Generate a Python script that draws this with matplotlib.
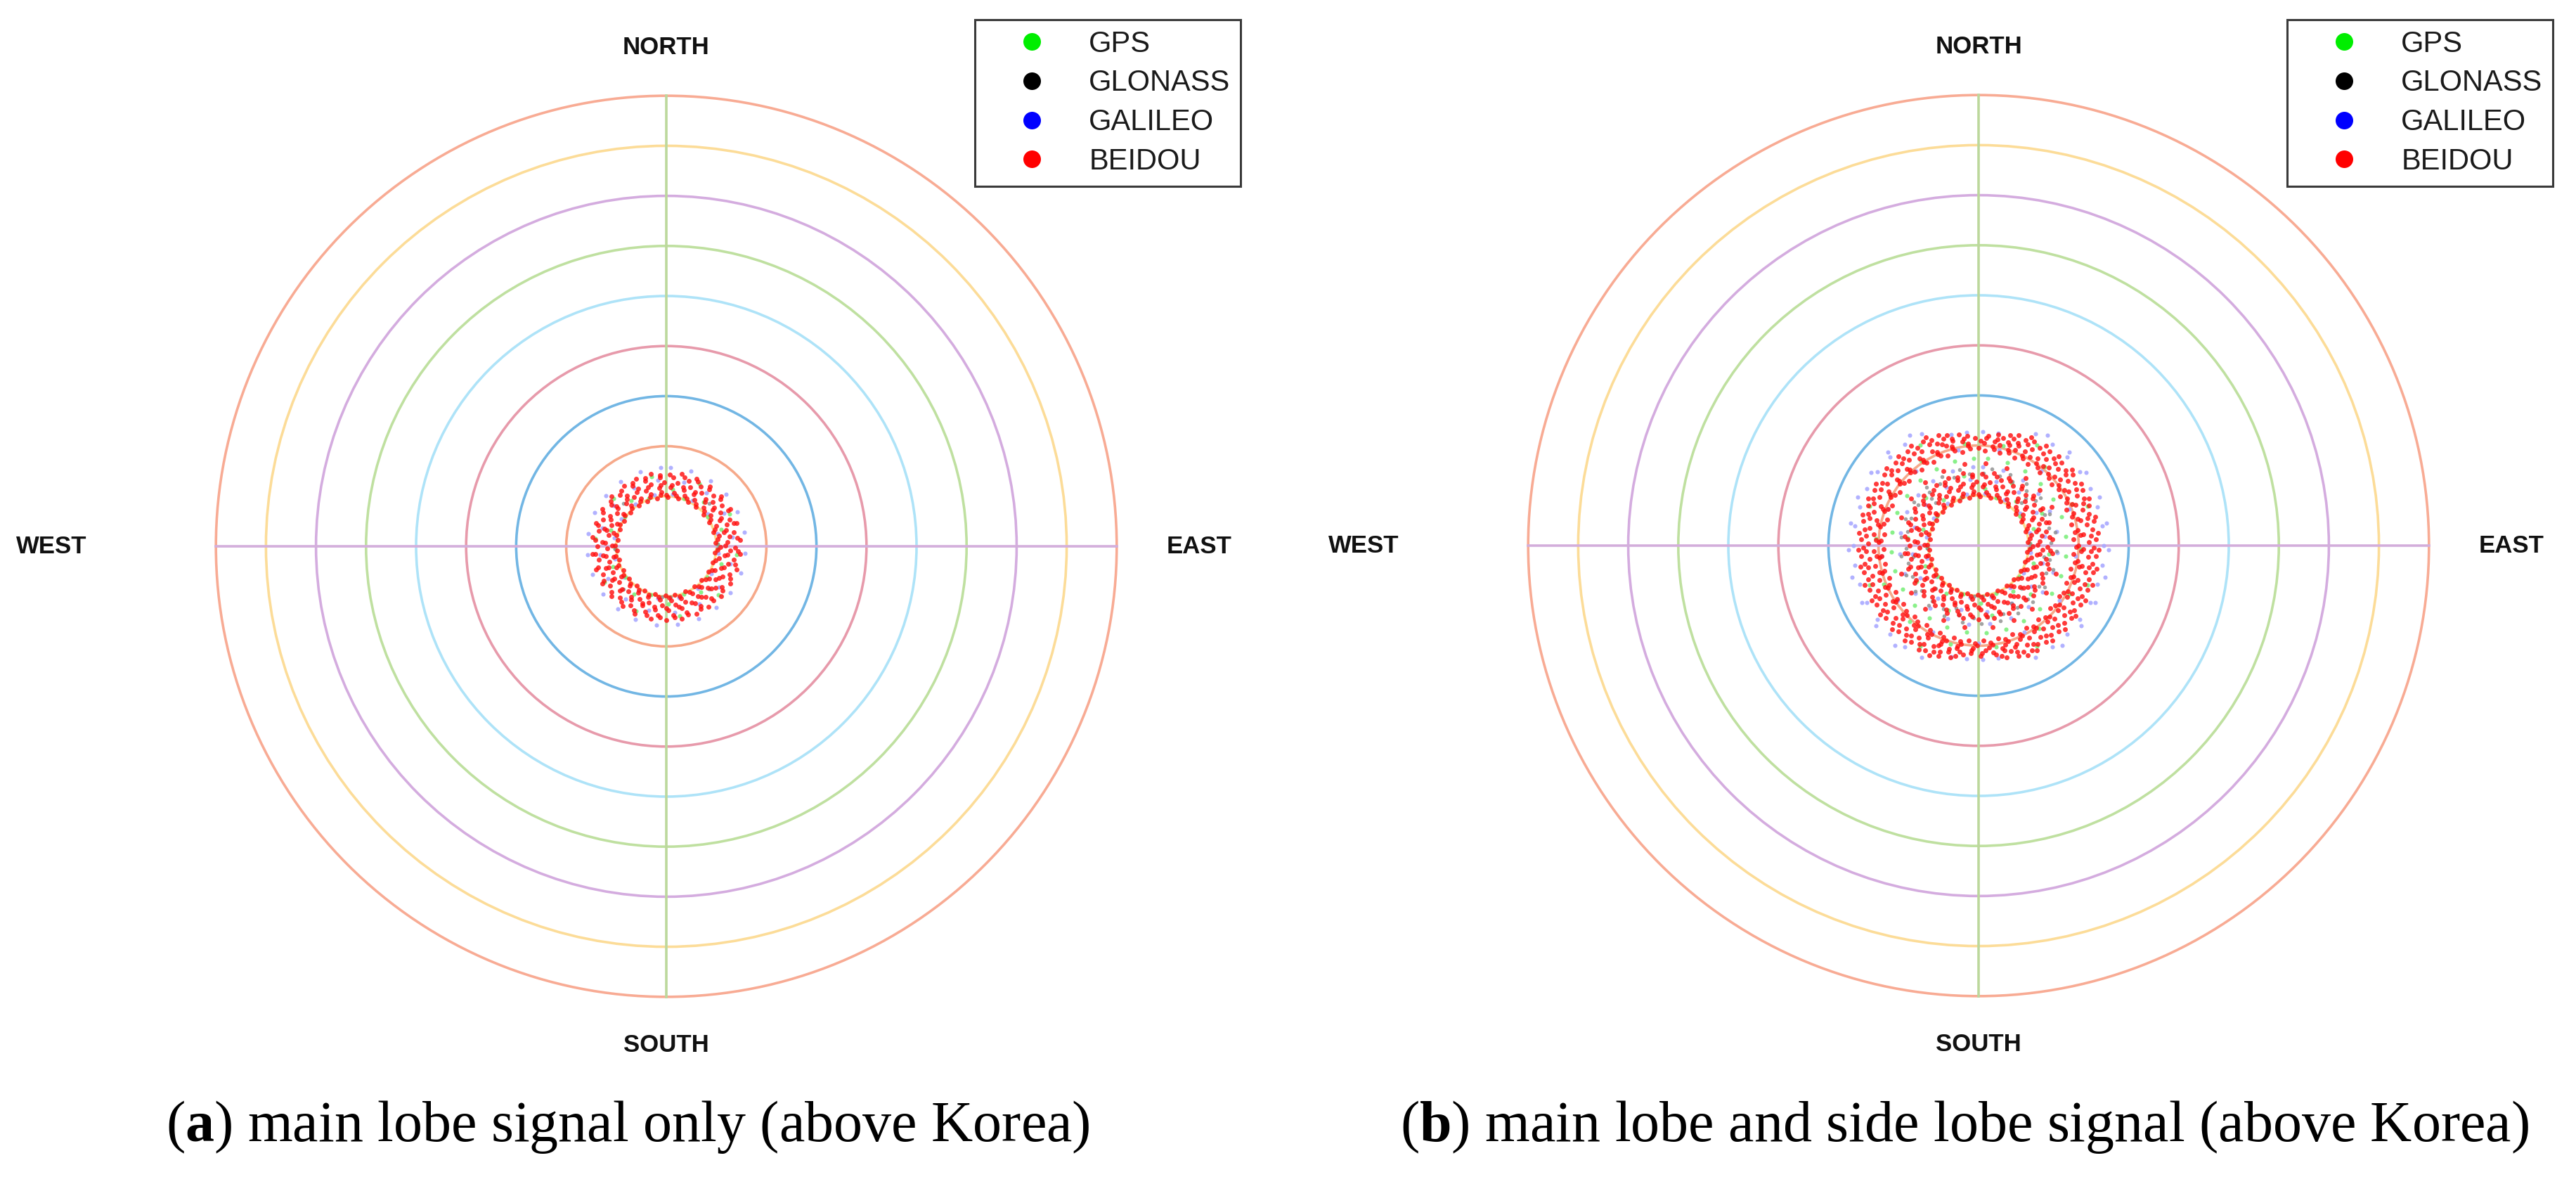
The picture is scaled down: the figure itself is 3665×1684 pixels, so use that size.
import numpy as np
import matplotlib
matplotlib.use("Agg")
import matplotlib.pyplot as plt
from matplotlib.lines import Line2D
from matplotlib.patches import Circle

# sky plot data: (zenith angle in degrees, [azimuths in degrees])
SYSTEMS = ["GPS", "GLONASS", "GALILEO", "BEIDOU"]

MAIN_GPS = [
    (10.2, [20, 55, 88, 127, 160, 198, 233, 268, 305, 340]),
    (11.5, [6, 40, 73, 108, 143, 178, 214, 249, 286, 322]),
    (14.2, [28, 63, 97, 133, 169, 205, 240, 276, 312, 348]),
]
MAIN_GLONASS = [
    (10.2, [88, 92, 175, 185, 267]),
    (12.2, [45, 135, 225, 315]),
]
MAIN_GALILEO = [
    (10.5, [7, 30, 52, 76, 98, 121, 143, 166, 189, 211, 234, 256, 279, 301, 324, 347]),
    (13.3, [15, 37, 60, 82, 105, 128, 150, 173, 195, 218, 241, 263, 286, 308, 331, 353]),
    (15.8, [3, 18, 34, 49, 64, 80, 95, 110, 126, 141, 156, 172, 187, 203, 218, 233,
            249, 264, 279, 295, 310, 325, 341, 356]),
]
MAIN_BEIDOU = [
    (9.8, [2, 14, 26, 37, 50, 61, 73, 86, 97, 109, 121, 134, 145, 157, 170, 181, 193,
           206, 217, 229, 241, 254, 265, 277, 290, 301, 313, 326, 337, 349]),
    (10.3, [0, 11, 23, 35, 47, 59, 71, 82, 94, 106, 118, 130, 141, 153, 165, 177, 189,
            200, 212, 224, 236, 248, 259, 271, 283, 295, 307, 318, 330, 342, 354]),
    (10.8, [8, 20, 31, 44, 55, 68, 79, 91, 103, 116, 127, 139, 151, 164, 175, 187, 200,
            211, 223, 236, 247, 259, 271, 284, 295, 307, 319, 332, 343, 355]),
    (11.8, [4, 17, 28, 41, 52, 64, 76, 89, 99, 112, 124, 135, 148, 161, 171, 184, 197,
            207, 220, 233, 244, 255, 268, 281, 291, 304, 317, 327, 340, 353]),
    (12.3, [5, 16, 28, 40, 51, 63, 75, 86, 98, 110, 121, 133, 145, 156, 168, 180, 191,
            203, 215, 226, 238, 250, 261, 273, 285, 296, 308, 320, 331, 343, 355]),
    (12.8, [10, 22, 33, 46, 58, 70, 81, 94, 106, 118, 130, 142, 153, 166, 178, 190, 202,
            213, 226, 238, 250, 262, 274, 286, 298, 309, 322, 334, 346, 358]),
    (13.8, [6, 19, 30, 43, 54, 67, 78, 91, 101, 114, 126, 139, 150, 163, 174, 187, 198,
            211, 222, 235, 246, 259, 270, 283, 293, 307, 318, 331, 342, 355]),
    (14.3, [3, 15, 26, 37, 49, 60, 71, 83, 94, 105, 117, 128, 139, 151, 162, 173, 185,
            196, 207, 219, 230, 241, 253, 264, 275, 287, 298, 309, 321, 332, 343, 355]),
    (14.8, [12, 24, 36, 48, 60, 72, 85, 96, 108, 120, 132, 145, 156, 168, 180, 192, 205,
            216, 228, 240, 252, 264, 277, 288, 300, 312, 325, 336, 348]),
]

SIDE_GPS = [
    (17.5, [6, 19, 32, 45, 58, 71, 84, 97, 110, 123, 136, 149, 162, 175, 188, 201, 214,
            227, 240, 253, 266, 279, 292, 305, 318, 331, 344, 357]),
    (20.5, [14, 40, 66, 92, 118, 144, 170, 196, 222, 248, 274, 300, 326, 352]),
    (23.2, [30, 70, 110, 150, 210, 250, 290, 330]),
]
SIDE_GLONASS = [
    (13.3, [45, 100, 150, 200, 260, 315]),
    (14.5, [4, 17, 28, 41, 52, 65, 76, 88, 101, 112, 124, 137, 148, 160, 173, 184, 196,
            209, 220, 232, 245, 256, 268, 281, 292, 304, 317, 328, 340, 353]),
    (15.6, [10, 24, 38, 52, 66, 80, 94, 108, 122, 136, 150, 164, 178, 192, 206, 220, 234,
            248, 262, 276, 290, 304, 318, 332, 346]),
]
SIDE_GALILEO = [
    (19.5, [12, 40, 68, 96, 124, 152, 180, 208, 236, 264, 292, 320, 348]),
    (22.8, [346, 354, 2, 10, 170, 178, 186, 194]),
    (25.0, [27, 36, 45, 54, 63, 72, 81, 90, 99, 108, 117, 126, 135, 144, 153, 207, 216,
            225, 234, 243, 252, 261, 270, 279, 288, 297, 306, 315, 324, 333]),
    (26.0, [32, 44, 56, 68, 80, 92, 104, 116, 128, 140, 220, 232, 244, 256, 268, 280,
            292, 304, 316, 328]),
]
SIDE_BEIDOU = [
    (16.5, [5, 20, 35, 48, 62, 110, 125, 140, 155, 170, 190, 205, 220, 235, 250, 290,
            305, 320, 335, 350]),
    (19.0, [4, 13, 22, 31, 40, 50, 59, 68, 77, 86, 95, 104, 113, 122, 131, 141, 150, 159,
            168, 177, 186, 195, 204, 213, 222, 232, 241, 250, 259, 268, 277, 286, 295,
            304, 313, 323, 332, 341, 350]),
    (19.5, [0, 9, 18, 27, 37, 46, 55, 64, 73, 82, 91, 100, 109, 119, 128, 137, 146, 155,
            164, 173, 182, 191, 201, 210, 219, 228, 237, 246, 255, 264, 273, 283, 292,
            301, 310, 319, 328, 337, 346, 355]),
    (20.0, [8, 17, 26, 35, 44, 53, 62, 71, 81, 90, 99, 108, 117, 126, 135, 145, 154, 163,
            172, 181, 190, 199, 208, 217, 226, 236, 245, 254, 263, 272, 281, 290, 299,
            308, 317, 327, 336, 345, 354]),
    (20.5, [3, 12, 21, 30, 39, 48, 57, 66, 75, 84, 93, 102, 111, 120, 129, 138, 147, 156,
            165, 174, 183, 192, 201, 210, 219, 228, 237, 246, 255, 264, 273, 282, 291,
            300, 309, 318, 327, 336, 345, 354]),
    (21.0, [1, 9, 17, 26, 34, 42, 51, 59, 67, 76, 84, 92, 101, 109, 117, 126, 134, 142,
            151, 159, 167, 176, 184, 192, 201, 209, 217, 226, 234, 242, 251, 259, 267,
            276, 284, 292, 301, 309, 317, 326, 334, 342, 351]),
    (21.5, [340, 346, 352, 358, 4, 10, 16, 22, 160, 166, 172, 178, 184, 190, 196, 202]),
    (22.0, [5, 13, 21, 29, 38, 46, 54, 63, 71, 79, 88, 96, 104, 113, 121, 129, 138, 146,
            154, 163, 171, 179, 188, 196, 204, 213, 221, 229, 238, 246, 254, 263, 271,
            279, 288, 296, 304, 313, 321, 329, 338, 346, 354]),
    (22.5, [10, 18, 26, 35, 43, 51, 60, 68, 76, 85, 93, 101, 110, 118, 126, 135, 143, 151,
            160, 168, 192, 200, 209, 217, 225, 234, 242, 250, 259, 267, 275, 284, 292,
            300, 309, 317, 325, 334, 342, 350]),
    (23.0, [16, 24, 32, 41, 49, 57, 66, 74, 82, 91, 99, 107, 116, 124, 132, 141, 149, 157,
            166, 194, 203, 211, 219, 228, 236, 244, 253, 261, 269, 278, 286, 294, 303,
            311, 319, 328, 336, 344]),
    (23.5, [20, 28, 37, 45, 53, 62, 70, 78, 87, 95, 103, 112, 120, 128, 137, 145, 153, 160,
            200, 207, 215, 223, 232, 240, 248, 257, 265, 273, 282, 290, 298, 307, 315,
            323, 332, 340]),
    (24.0, [26, 34, 42, 51, 59, 67, 76, 84, 92, 101, 109, 117, 126, 134, 142, 151, 156,
            204, 210, 218, 226, 235, 243, 251, 260, 268, 276, 285, 293, 301, 310, 318,
            326, 334]),
]

RING_ZENITH = [10, 20, 30, 40, 50, 60, 70, 80, 90]
RING_COLORS = ["#fbd98f", "#f6a98a", "#72b6e4", "#e79aab", "#aee3f8",
               "#bfe0a0", "#d4acdf", "#fcdc98", "#f8ab94"]
DOT_STYLE = {
    "GPS": dict(color="#7cef7c", ms=2.2, alpha=0.9),
    "GLONASS": dict(color="#8c8c8c", ms=2.0, alpha=0.8),
    "GALILEO": dict(color="#a9a9ff", ms=2.2, alpha=0.9),
    "BEIDOU": dict(color="#ff1010", ms=2.5, alpha=0.82),
}
LEGEND_COLORS = {"GPS": "#00ee00", "GLONASS": "#000000", "GALILEO": "#0000ff", "BEIDOU": "#ff0000"}

CAPTIONS = [r"($\mathbf{a}$) main lobe signal only (above Korea)",
            r"($\mathbf{b}$) main lobe and side lobe signal (above Korea)"]

plt.rcParams["mathtext.fontset"] = "custom"
plt.rcParams["mathtext.rm"] = "Liberation Serif"
plt.rcParams["mathtext.bf"] = "Liberation Serif:bold"


def to_xy(rings):
    z = np.array([zen for zen, azs in rings for a in azs], dtype=float)
    a = np.radians([a for zen, azs in rings for a in azs])
    return z * np.sin(a), z * np.cos(a)


W, H = 3666, 1684
U = 7.12  # px per degree of zenith angle
fig = plt.figure(figsize=(W / 200, H / 200), dpi=200)

panels = [
    (948, 777, 0.9629, 893, {"GPS": MAIN_GPS, "GLONASS": MAIN_GLONASS,
                             "GALILEO": MAIN_GALILEO, "BEIDOU": MAIN_BEIDOU}),
    (2815, 776, 0.9815, 2795, {"GPS": MAIN_GPS + SIDE_GPS,
                               "GLONASS": MAIN_GLONASS + SIDE_GLONASS,
                               "GALILEO": MAIN_GALILEO + SIDE_GALILEO,
                               "BEIDOU": MAIN_BEIDOU + SIDE_BEIDOU}),
]

for i, (cx, cy, leg_x, cap_x, data) in enumerate(panels):
    ax = fig.add_axes([i * 0.5, 0, 0.5, 1])
    x0 = i * W / 2
    ax.set_xlim((x0 - cx) / U, (x0 + W / 2 - cx) / U)
    ax.set_ylim(-(H - cy) / U, cy / U)
    ax.axis("off")

    for zen, col in zip(RING_ZENITH, RING_COLORS):
        ax.add_patch(Circle((0, 0), zen, fill=False, ec=col, lw=1.3, zorder=1))
    ax.plot([0, 0], [-90, 90], color="#bcd89c", lw=1.3, zorder=1)
    ax.plot([-90, 90], [0, 0], color="#d3aedb", lw=1.3, zorder=1)

    for name in ["GALILEO", "GPS", "GLONASS", "BEIDOU"]:
        x, y = to_xy(data[name])
        st = DOT_STYLE[name]
        ax.plot(x, y, "o", color=st["color"], ms=st["ms"], mew=0, alpha=st["alpha"], zorder=3)

    lab = dict(fontsize=12.5, fontweight="bold", family="Liberation Sans",
               ha="center", va="center", color="#111111")
    ax.text(0, 99.7, "NORTH", **lab)
    ax.text(0, -99.7, "SOUTH", **lab)
    ax.text(-122.8, 0, "WEST", **lab)
    ax.text(106.5, 0, "EAST", **lab)

    handles = [Line2D([], [], ls="none", marker="o", ms=9, mew=0, color=LEGEND_COLORS[s])
               for s in SYSTEMS]
    leg = ax.legend(handles, SYSTEMS, loc="upper right", bbox_to_anchor=(leg_x, 0.9834),
                    borderaxespad=0, frameon=True, fancybox=False, framealpha=1,
                    edgecolor="#3a3a3a", prop={"family": "Liberation Sans", "size": 15},
                    borderpad=0.35, labelspacing=0.38, handlelength=3.2, handletextpad=0.35)
    leg.get_frame().set_linewidth(1.1)
    for t in leg.get_texts():
        t.set_color("#1a1a1a")

    fig.text(cap_x / W, 1 - 1623 / H, CAPTIONS[i],
             family="Liberation Serif", fontsize=29.5, ha="center", va="baseline")

fig.savefig("out.png", dpi=200, facecolor="white")
